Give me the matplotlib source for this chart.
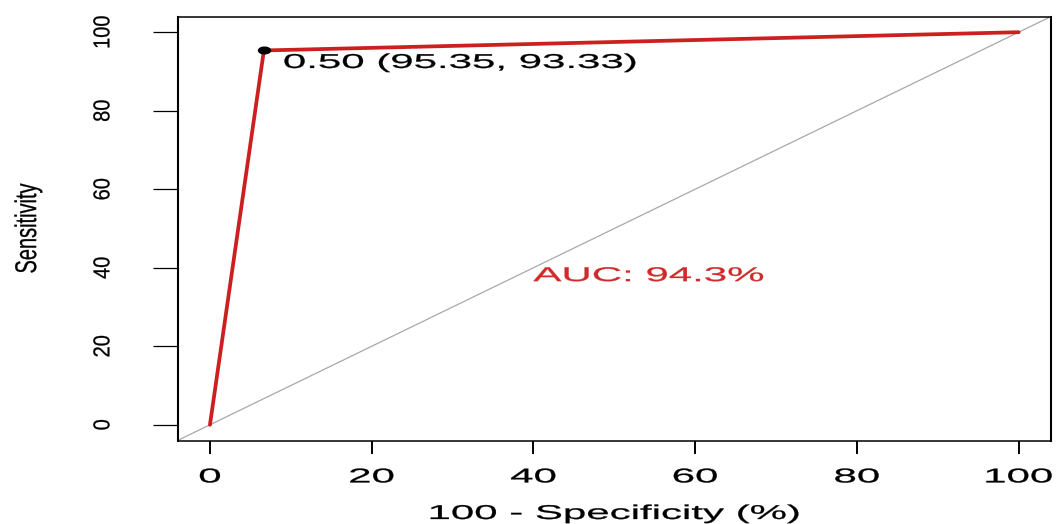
import numpy as np
import matplotlib
matplotlib.use('Agg')
import matplotlib.pyplot as plt
from matplotlib.markers import MarkerStyle
from matplotlib.patheffects import AbstractPathEffect
from matplotlib.transforms import Affine2D

# ROC curve (percent)
specificity = [100, 93.33, 0]
sensitivity = [0, 95.35, 100]
best_threshold = 0.50
best_sens = 95.35
best_spec = 93.33

xticks = [0, 20, 40, 60, 80, 100]
yticks = [0, 20, 40, 60, 80, 100]

fpr = 100 - np.array(specificity)
tpr = np.array(sensitivity)
auc = np.trapezoid(tpr, fpr) / 100  # percent


# the reference picture is stretched sideways, so stretch the glyphs the same way
class Stretch(AbstractPathEffect):
    def __init__(self, sx, anchor='center', lw=0.2):
        super().__init__()
        self.sx = sx
        self.anchor = anchor
        self.lw = lw

    def draw_path(self, renderer, gc, tpath, affine, rgbFace=None):
        ext = tpath.get_extents(affine)
        if self.anchor == 'start':
            cx = affine.transform((0, 0))[0]
        else:
            cx = (ext.x0 + ext.x1) / 2
        t = affine + Affine2D().translate(-cx, 0).scale(self.sx, 1).translate(cx, 0)
        gc0 = renderer.new_gc()
        gc0.copy_properties(gc)
        gc0.set_linewidth(self.lw)
        gc0.set_foreground(rgbFace)
        renderer.draw_path(gc0, tpath, t, rgbFace)
        gc0.restore()


plt.rcParams['font.family'] = ['Liberation Sans', 'DejaVu Sans']
FS = 14.4
W, H = 1057, 524

fig = plt.figure(figsize=(W / 100, H / 100), dpi=100)
l, r, t, b = 177.6, 1051, 16.5, 440.5
ax = fig.add_axes([l / W, 1 - b / H, (r - l) / W, (b - t) / H])

ax.axline((0, 0), slope=1, color='#a8a8a8', lw=0.9, zorder=1)
ax.plot(fpr, tpr, color='#cc1f1f', lw=2.7, solid_capstyle='round',
        solid_joinstyle='round', zorder=2)
ax.plot(100 - best_spec, best_sens, ls='none', color='black', ms=4.8,
        marker=MarkerStyle('o', transform=Affine2D().scale(1.8, 1)), zorder=3)

label = f"{best_threshold:.2f} ({best_sens:.2f}, {best_spec:.2f})"
ax.annotate(label, (100 - best_spec, best_sens), xytext=(19, -12),
            textcoords='offset pixels', ha='left', va='center', fontsize=FS,
            color='black', path_effects=[Stretch(2.1, 'start')])
ax.text(40, 38, f"AUC: {auc:.1f}%", ha='left', va='center', fontsize=FS,
        color='#d02a2a', path_effects=[Stretch(2.1, 'start')])

ax.set_xlim(-4, 104)
ax.set_ylim(-4, 104)
ax.set_xticks(xticks)
ax.set_yticks(yticks)
ax.tick_params(axis='x', length=9.4, width=1.4, pad=10, labelsize=FS)
ax.tick_params(axis='y', length=18, width=0.9, pad=29, labelsize=FS,
               labelrotation=90)
for lab in ax.get_xticklabels():
    lab.set_path_effects([Stretch(2.1)])
for lab in ax.get_yticklabels():
    lab.set_path_effects([Stretch(1.15)])
    lab.set_va('center')

for side, sp in ax.spines.items():
    sp.set_linewidth(1.5 if side in ('left', 'right') else 1.1)

ax.set_xlabel('100 - Specificity (%)', fontsize=FS,
              path_effects=[Stretch(2.1)])
ax.xaxis.set_label_coords(0.5, (b - 504) / (b - t))
ax.set_ylabel('Sensitivity', fontsize=FS, va='center',
              path_effects=[Stretch(1.5)])
ax.yaxis.set_label_coords((28 - l) / (r - l), 0.5)

fig.savefig('out.png', dpi=100)
